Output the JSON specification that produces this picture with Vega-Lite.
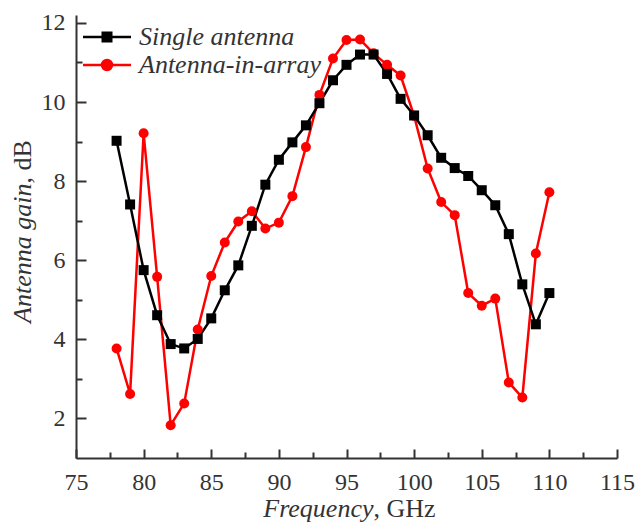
{
  "$schema": "https://vega.github.io/schema/vega-lite/v6.json",
  "width": 541,
  "height": 443,
  "autosize": {"type": "none"},
  "padding": {"left": 76, "top": 15, "right": 20, "bottom": 66},
  "background": "white",
  "config": {
    "view": {"stroke": null},
    "font": "Liberation Serif",
    "axis": {
      "domainColor": "#333333",
      "domainWidth": 2,
      "tickColor": "#333333",
      "tickWidth": 2,
      "labelColor": "#333333",
      "labelFont": "Liberation Serif",
      "labelFontSize": 24,
      "titleColor": "#333333",
      "titleFont": "Liberation Serif",
      "titleFontSize": 26,
      "titleFontWeight": "normal",
      "grid": false
    },
    "legend": {
      "title": null, "orient": "none", "legendX": 18, "legendY": 9, "padding": 0,
      "labelFont": "Liberation Serif", "labelFontSize": 26, "labelFontStyle": "italic", "labelColor": "#333333",
      "labelOffset": 19, "rowPadding": 2, "symbolSize": 100, "labelLimit": 400
    }
  },
  "data": {"values": [
    {"f":78,"g":3.77,"s":"Antenna-in-array"},{"f":79,"g":2.62,"s":"Antenna-in-array"},{"f":80,"g":9.21,"s":"Antenna-in-array"},{"f":81,"g":5.58,"s":"Antenna-in-array"},{"f":82,"g":1.83,"s":"Antenna-in-array"},{"f":83,"g":2.38,"s":"Antenna-in-array"},{"f":84,"g":4.25,"s":"Antenna-in-array"},{"f":85,"g":5.6,"s":"Antenna-in-array"},{"f":86,"g":6.45,"s":"Antenna-in-array"},{"f":87,"g":6.98,"s":"Antenna-in-array"},{"f":88,"g":7.24,"s":"Antenna-in-array"},{"f":89,"g":6.8,"s":"Antenna-in-array"},{"f":90,"g":6.95,"s":"Antenna-in-array"},{"f":91,"g":7.62,"s":"Antenna-in-array"},{"f":92,"g":8.86,"s":"Antenna-in-array"},{"f":93,"g":10.18,"s":"Antenna-in-array"},{"f":94,"g":11.1,"s":"Antenna-in-array"},{"f":95,"g":11.57,"s":"Antenna-in-array"},{"f":96,"g":11.58,"s":"Antenna-in-array"},{"f":97,"g":11.23,"s":"Antenna-in-array"},{"f":98,"g":10.94,"s":"Antenna-in-array"},{"f":99,"g":10.67,"s":"Antenna-in-array"},{"f":100,"g":9.65,"s":"Antenna-in-array"},{"f":101,"g":8.32,"s":"Antenna-in-array"},{"f":102,"g":7.47,"s":"Antenna-in-array"},{"f":103,"g":7.14,"s":"Antenna-in-array"},{"f":104,"g":5.17,"s":"Antenna-in-array"},{"f":105,"g":4.85,"s":"Antenna-in-array"},{"f":106,"g":5.03,"s":"Antenna-in-array"},{"f":107,"g":2.91,"s":"Antenna-in-array"},{"f":108,"g":2.53,"s":"Antenna-in-array"},{"f":109,"g":6.17,"s":"Antenna-in-array"},{"f":110,"g":7.72,"s":"Antenna-in-array"},
    {"f":78,"g":9.02,"s":"Single antenna"},{"f":79,"g":7.41,"s":"Single antenna"},{"f":80,"g":5.75,"s":"Single antenna"},{"f":81,"g":4.61,"s":"Single antenna"},{"f":82,"g":3.88,"s":"Single antenna"},{"f":83,"g":3.77,"s":"Single antenna"},{"f":84,"g":4.01,"s":"Single antenna"},{"f":85,"g":4.53,"s":"Single antenna"},{"f":86,"g":5.24,"s":"Single antenna"},{"f":87,"g":5.87,"s":"Single antenna"},{"f":88,"g":6.87,"s":"Single antenna"},{"f":89,"g":7.91,"s":"Single antenna"},{"f":90,"g":8.54,"s":"Single antenna"},{"f":91,"g":8.98,"s":"Single antenna"},{"f":92,"g":9.41,"s":"Single antenna"},{"f":93,"g":9.97,"s":"Single antenna"},{"f":94,"g":10.55,"s":"Single antenna"},{"f":95,"g":10.94,"s":"Single antenna"},{"f":96,"g":11.2,"s":"Single antenna"},{"f":97,"g":11.2,"s":"Single antenna"},{"f":98,"g":10.71,"s":"Single antenna"},{"f":99,"g":10.08,"s":"Single antenna"},{"f":100,"g":9.66,"s":"Single antenna"},{"f":101,"g":9.16,"s":"Single antenna"},{"f":102,"g":8.59,"s":"Single antenna"},{"f":103,"g":8.33,"s":"Single antenna"},{"f":104,"g":8.13,"s":"Single antenna"},{"f":105,"g":7.77,"s":"Single antenna"},{"f":106,"g":7.39,"s":"Single antenna"},{"f":107,"g":6.66,"s":"Single antenna"},{"f":108,"g":5.39,"s":"Single antenna"},{"f":109,"g":4.38,"s":"Single antenna"},{"f":110,"g":5.17,"s":"Single antenna"}
  ]},
  "resolve": {"axis": {"x": "independent", "y": "independent"}},
  "layer": [
    {
      "mark": {"type": "line", "strokeWidth": 2.5},
      "encoding": {
        "x": {"field": "f", "type": "quantitative",
          "scale": {"domain": [75, 115], "nice": false, "zero": false},
          "axis": {"orient": "bottom", "values": [75,80,85,90,95,100,105,110,115], "tickSize": -9, "labelPadding": 21, "labelFlush": false,
            "title": "Frequency", "titleFontStyle": "italic", "titleAlign": "right", "titleX": 297, "titleY": 58, "titleBaseline": "alphabetic", "titleAnchor": null}},
        "y": {"field": "g", "type": "quantitative",
          "scale": {"domain": [1, 12.2], "nice": false, "zero": false},
          "axis": {"orient": "left", "values": [2,4,6,8,10,12], "tickSize": -10, "labelPadding": 21, "labelFlush": false,
            "title": "Antenna gain", "titleFontStyle": "italic", "titleAngle": -90, "titleAlign": "right", "titleX": -46, "titleY": 168, "titleBaseline": "alphabetic", "titleAnchor": null}},
        "color": {"field": "s", "type": "nominal",
          "scale": {"domain": ["Single antenna", "Antenna-in-array"], "range": ["#000000", "#ff0000"]},
          "legend": {
            "encode": {"symbols": {"update": {
              "shape": {"signal": "datum.value === 'Single antenna' ? 'M-4.8,0H4.8M-0.85,-0.85H0.85V0.85H-0.85Z' : 'M-4.8,0H4.8M-1.0,0A1.0,1.0,0,1,1,1.0,0A1.0,1.0,0,1,1,-1.0,0Z'"},
              "stroke": {"scale": "color", "field": "value"},
              "fill": {"scale": "color", "field": "value"},
              "strokeWidth": {"value": 2.5},
              "size": {"value": 100},
              "opacity": {"value": 1}
            }}}}},
        "order": {"field": "f"}
      }
    },
    {
      "transform": [{"filter": "datum.s === 'Antenna-in-array'"}],
      "mark": {"type": "point", "shape": "circle", "filled": true, "size": 100, "opacity": 1},
      "encoding": {
        "x": {"field": "f", "type": "quantitative", "axis": null},
        "y": {"field": "g", "type": "quantitative", "axis": null},
        "color": {"field": "s", "type": "nominal",
          "scale": {"domain": ["Single antenna", "Antenna-in-array"], "range": ["#000000", "#ff0000"]},
          "legend": {
            "encode": {"symbols": {"update": {
              "shape": {"signal": "datum.value === 'Single antenna' ? 'M-4.8,0H4.8M-0.85,-0.85H0.85V0.85H-0.85Z' : 'M-4.8,0H4.8M-1.0,0A1.0,1.0,0,1,1,1.0,0A1.0,1.0,0,1,1,-1.0,0Z'"},
              "stroke": {"scale": "color", "field": "value"},
              "fill": {"scale": "color", "field": "value"},
              "strokeWidth": {"value": 2.5},
              "size": {"value": 100},
              "opacity": {"value": 1}
            }}}}}
      }
    },
    {
      "transform": [{"filter": "datum.s === 'Single antenna'"}],
      "mark": {"type": "point", "shape": "square", "filled": true, "size": 100, "opacity": 1},
      "encoding": {
        "x": {"field": "f", "type": "quantitative",
          "axis": {"orient": "bottom", "values": [77.5,82.5,87.5,92.5,97.5,102.5,107.5,112.5], "tickSize": -6, "labels": false, "domain": false,
            "title": ", GHz", "titleFontStyle": "normal", "titleAlign": "left", "titleX": 297, "titleY": 58, "titleBaseline": "alphabetic", "titleAnchor": null}},
        "y": {"field": "g", "type": "quantitative",
          "axis": {"orient": "left", "values": [3,5,7,9,11], "tickSize": -6, "labels": false, "domain": false,
            "title": ", dB", "titleFontStyle": "normal", "titleAngle": -90, "titleAlign": "left", "titleX": -46, "titleY": 168, "titleBaseline": "alphabetic", "titleAnchor": null}},
        "color": {"field": "s", "type": "nominal",
          "scale": {"domain": ["Single antenna", "Antenna-in-array"], "range": ["#000000", "#ff0000"]},
          "legend": {
            "encode": {"symbols": {"update": {
              "shape": {"signal": "datum.value === 'Single antenna' ? 'M-4.8,0H4.8M-0.85,-0.85H0.85V0.85H-0.85Z' : 'M-4.8,0H4.8M-1.0,0A1.0,1.0,0,1,1,1.0,0A1.0,1.0,0,1,1,-1.0,0Z'"},
              "stroke": {"scale": "color", "field": "value"},
              "fill": {"scale": "color", "field": "value"},
              "strokeWidth": {"value": 2.5},
              "size": {"value": 100},
              "opacity": {"value": 1}
            }}}}}
      }
    }
  ]
}
